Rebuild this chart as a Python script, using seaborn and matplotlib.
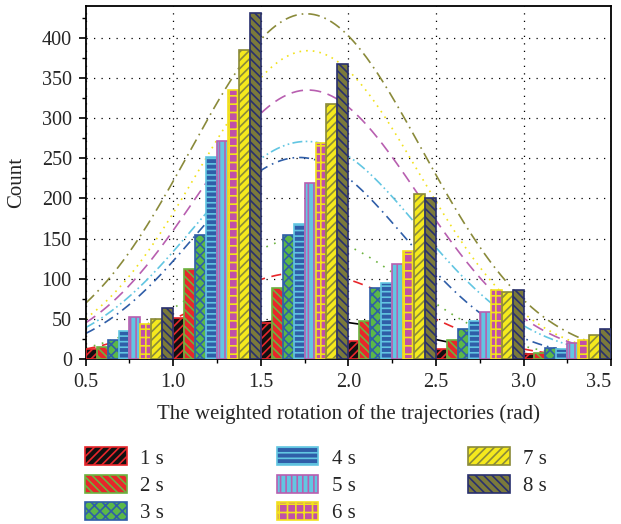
import numpy as np
import pandas as pd
import matplotlib
matplotlib.use("Agg")
import matplotlib.pyplot as plt
from matplotlib.patches import Patch
from matplotlib.ticker import MultipleLocator
import seaborn as sns

# ---------- DATA ----------
bin_centers = [0.75, 1.25, 1.75, 2.25, 2.75, 3.25]
series = ["1 s", "2 s", "3 s", "4 s", "5 s", "6 s", "7 s", "8 s"]
counts_1s = [13, 51, 45, 22, 12, 6]
counts_2s = [15, 112, 89, 47, 24, 8]
counts_3s = [23, 155, 155, 88, 37, 14]
counts_4s = [35, 252, 168, 94, 47, 12]
counts_5s = [52, 271, 219, 118, 59, 20]
counts_6s = [43, 335, 269, 135, 86, 24]
counts_7s = [50, 385, 318, 205, 83, 30]
counts_8s = [63, 431, 367, 200, 86, 37]

# fitted normal curves: peak height, centre, sigma
fit_peak = [49, 108, 152, 251, 271, 335, 384, 430]
fit_mean = [1.75, 1.75, 1.77, 1.72, 1.76, 1.77, 1.77, 1.76]
fit_sigma = [0.63, 0.60, 0.58, 0.60, 0.64, 0.634, 0.63, 0.66]
# --------------------------

all_counts = [counts_1s, counts_2s, counts_3s, counts_4s,
              counts_5s, counts_6s, counts_7s, counts_8s]
df = pd.DataFrame({
    "x": bin_centers * len(series),
    "count": sum(all_counts, []),
    "series": [s for s in series for _ in bin_centers],
})

# face, edge/hatch colour, hatch
bar_styles = [
    ("#111111", "#e8262b", "////"),
    ("#e8262b", "#6cb33f", "\\\\\\\\"),
    ("#5bb848", "#2f5ea8", "xxx"),
    ("#2f5ea8", "#62c6e2", "---"),
    ("#62c6e2", "#b85fb0", "|||"),
    ("#c050a8", "#f2e21c", "++"),
    ("#f5e91d", "#8a8a3a", "////"),
    ("#7b7a3b", "#29306e", "\\\\\\\\"),
]
line_styles = [
    ("black", "-"),
    ("#e8262b", (0, (6, 4))),
    ("#6cb33f", (0, (1, 4))),
    ("#2f5ea8", (0, (6, 3, 1, 3))),
    ("#62c6e2", (0, (6, 2, 1, 2, 1, 2))),
    ("#b85fb0", (0, (7, 4))),
    ("#f2e21c", (0, (1, 3))),
    ("#8a8a3a", (0, (7, 3, 1, 3))),
]

sns.set_theme(style="ticks")
plt.rcParams["font.family"] = ["Liberation Serif", "DejaVu Serif"]
plt.rcParams["hatch.linewidth"] = 1.2

fig = plt.figure(figsize=(6.21, 5.24), dpi=100)
ax = fig.add_axes([0.138, 0.315, 0.846, 0.674])

sns.barplot(data=df, x="x", y="count", hue="series", native_scale=True,
            width=1.0, gap=0, dodge=True, legend=False, ax=ax,
            errorbar=None, zorder=3)

for cont, (face, edge, hatch) in zip(ax.containers, bar_styles):
    for bar in cont:
        bar.set_facecolor(face)
        bar.set_edgecolor(edge)
        bar.set_hatch(hatch)
        bar.set_linewidth(1.2)
        bar.set_alpha(1)

# fitted curves behind the bars
xs = np.linspace(0.5, 3.5, 300)
for peak, mu, sd, (col, ls) in zip(fit_peak, fit_mean, fit_sigma, line_styles):
    ys = peak * np.exp(-(xs - mu) ** 2 / (2 * sd ** 2))
    ax.plot(xs, ys, color=col, linestyle=ls, linewidth=1.2, zorder=2)

ax.set_xlim(0.5, 3.5)
ax.set_ylim(0, 440)
ax.xaxis.set_minor_locator(MultipleLocator(0.25))
ax.yaxis.set_minor_locator(MultipleLocator(25))
ax.set_xticks(np.arange(0.5, 3.51, 0.5))
ax.set_xticklabels([f"{v:.1f}" for v in np.arange(0.5, 3.51, 0.5)])
ax.set_yticks(np.arange(0, 401, 50))
ax.tick_params(axis="both", which="major", direction="out", length=5,
               width=1.2, labelsize=14.5, color="black", pad=5)
ax.tick_params(axis="both", which="minor", direction="out", length=3,
               width=1, color="black")
# last x label sits flush with the right edge, as in the original
ax.get_xticklabels()[-1].set_horizontalalignment("right")
ax.grid(True, which="major", color="black", linestyle=(0, (1, 5)),
        linewidth=0.9, zorder=0)
ax.set_axisbelow(True)
for sp in ax.spines.values():
    sp.set_visible(True)
    sp.set_color("black")
    sp.set_linewidth(1.3)

ax.set_xlabel("The weighted rotation of the trajectories (rad)", fontsize=15,
              labelpad=9)
ax.set_ylabel("Count", fontsize=15, labelpad=11)

handles = [Patch(facecolor=f, edgecolor=e, hatch=h, linewidth=1.2)
           for f, e, h in bar_styles]
fig.legend(handles, series, loc="upper left", ncol=3, frameon=False,
           bbox_to_anchor=(0.137, 0.146), fontsize=15,
           borderpad=0, borderaxespad=0,
           handlelength=2.0, handleheight=0.95, handletextpad=0.65,
           columnspacing=5.4, labelspacing=0.3)

plt.savefig("out.png", dpi=100)
